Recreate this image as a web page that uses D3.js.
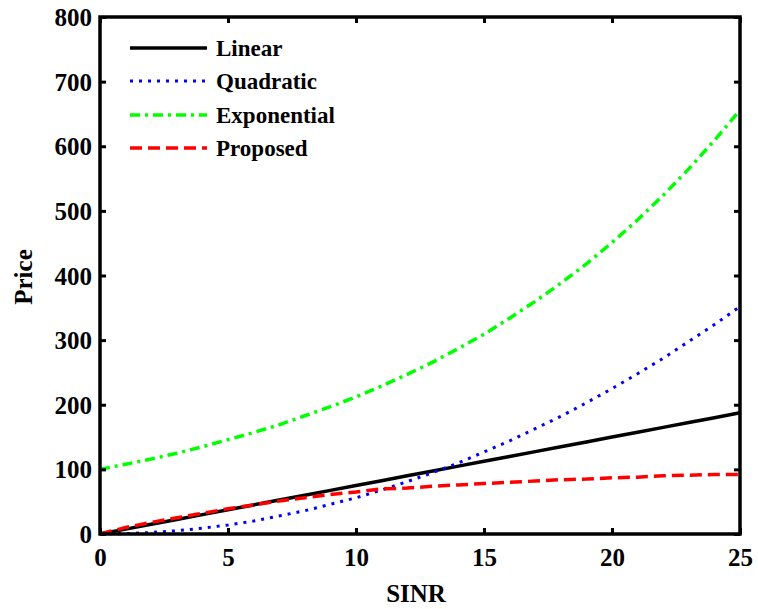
<!DOCTYPE html>
<html><head><meta charset="utf-8">
<script src="https://cdn.jsdelivr.net/npm/d3@7"></script>
<style>
html,body{margin:0;padding:0;background:#fff;}
svg{display:block;}
text{font-family:"Liberation Serif","Times New Roman",serif;font-weight:bold;fill:#000;}
</style></head>
<body>
<svg id="chart" width="758" height="609"></svg>
<script>
const sinr = [0,1,2,3,4,5,6,7,8,9,10,11,12,13,14,15,16,17,18,19,20,21,22,23,24,25];
const linear = [0,7.5,15,22.5,30,37.5,45,52.5,60,67.5,75,82.5,90,97.5,105,112.5,120,127.5,135,142.5,150,157.5,165,172.5,180,187.5];
const quadratic = [0,0.6,2.3,5,9,14,20,28,36,46,56,68,81,95,110,127,144,163,182,203,225,248,272,298,324,352];
const exponential = [100,108,116,125,135,146,157,169,183,197,212,229,247,266,287,309,334,360,388,418,451,486,524,565,609,656];
const proposed = [0,10,18,25,32,39,45,51,56,61,65,70,71,74,76,78,80,82,84,85,87,88,90,91,92,92];
const xTicks = [0,5,10,15,20,25];
const yTicks = [0,100,200,300,400,500,600,700,800];
const seriesNames = ["Linear","Quadratic","Exponential","Proposed"];
const seriesColors = ["#000000","#0000ff","#00ff00","#ff0000"];
const seriesDash = [null,"3,6","10,5,3,5","12,6"];
const seriesWidth = [3.5,3,3.5,3.5];

const svg = d3.select("#chart");
const L=100,R=740,T=17,B=534;
const x = d3.scaleLinear().domain([0,25]).range([L,R]);
const y = d3.scaleLinear().domain([0,800]).range([B,T]);

const seriesData=[linear,quadratic,exponential,proposed];
const line = d3.line().x((d,i)=>x(sinr[i])).y(d=>y(d));

seriesData.forEach((s,k)=>{
  svg.append("path").datum(s).attr("d",line)
    .attr("fill","none").attr("stroke",seriesColors[k])
    .attr("stroke-width",seriesWidth[k])
    .attr("stroke-dasharray",seriesDash[k])
    .attr("stroke-linejoin","round");
});

const tickLen=6;
const axB = svg.append("g").attr("transform",`translate(0,${B})`)
  .call(d3.axisBottom(x).tickValues(xTicks).tickSizeInner(-tickLen).tickSizeOuter(0).tickPadding(14));
const axT = svg.append("g").attr("transform",`translate(0,${T})`)
  .call(d3.axisTop(x).tickValues(xTicks).tickSizeInner(-tickLen).tickSizeOuter(0).tickFormat(""));
const axL = svg.append("g").attr("transform",`translate(${L},0)`)
  .call(d3.axisLeft(y).tickValues(yTicks).tickSizeInner(-tickLen).tickSizeOuter(0).tickPadding(8));
const axR = svg.append("g").attr("transform",`translate(${R},0)`)
  .call(d3.axisRight(y).tickValues(yTicks).tickSizeInner(-tickLen).tickSizeOuter(0).tickFormat(""));
[axB,axT,axL,axR].forEach(a=>{
  a.select(".domain").remove();
  a.selectAll(".tick line").attr("stroke","#000").attr("stroke-width",3);
  a.selectAll(".tick text").style("font-size","25px").style("font-family",'"Liberation Serif","Times New Roman",serif').style("font-weight","bold");
});
axB.selectAll(".tick text").attr("dy","0.71em");
axL.selectAll(".tick text").attr("dy","0.34em");

svg.append("rect").attr("x",L).attr("y",T).attr("width",R-L).attr("height",B-T)
  .attr("fill","none").attr("stroke","#000").attr("stroke-width",3.5);

svg.append("text").attr("x",416).attr("y",602).attr("text-anchor","middle")
  .style("font-size","25px").text("SINR");
svg.append("text").attr("transform","translate(32,277) rotate(-90)").attr("text-anchor","middle")
  .style("font-size","25px").text("Price");

const legY=[48,81,115,148];
seriesNames.forEach((n,k)=>{
  svg.append("line").attr("x1",130).attr("x2",207).attr("y1",legY[k]).attr("y2",legY[k])
    .attr("stroke",seriesColors[k]).attr("stroke-width",seriesWidth[k])
    .attr("stroke-dasharray",seriesDash[k]);
  svg.append("text").attr("x",216).attr("y",legY[k]+8).style("font-size","23px").text(n);
});
</script>
</body></html>
